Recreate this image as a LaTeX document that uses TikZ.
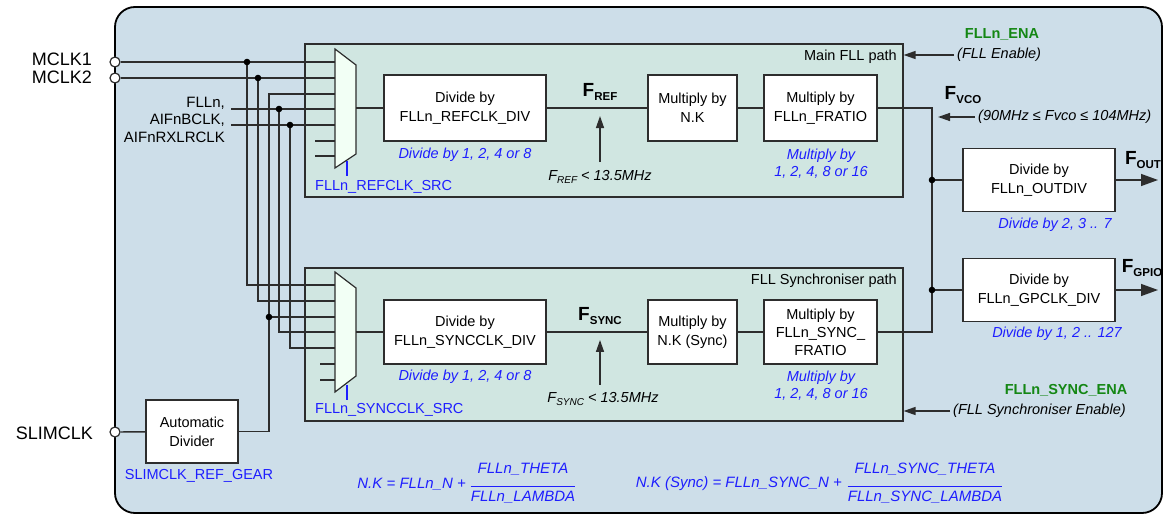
\documentclass[tikz,border=0pt]{standalone}
\usepackage{fontspec}
\setmainfont{Liberation Sans}
\usepackage{tikz}
\usetikzlibrary{arrows.meta,positioning,calc}
\definecolor{outerbg}{RGB}{205,222,233}
\definecolor{pathbg}{RGB}{208,230,225}
\definecolor{muxbg}{RGB}{242,255,245}
\definecolor{regblue}{RGB}{30,30,255}
\definecolor{enagreen}{RGB}{20,135,20}
\definecolor{wirec}{RGB}{45,45,45}
\newcommand{\fsig}[1]{\textbf{F}\raisebox{-0.45ex}{\fontsize{11.5}{11.5}\selectfont\textbf{#1}}}
\newcommand{\flim}[1]{F\raisebox{-0.45ex}{\fontsize{10}{10}\selectfont #1}}

\begin{document}
\begin{tikzpicture}[x=1pt,y=-1pt,
    wire/.style={draw=wirec,line width=1.4pt},
    blockbox/.style={draw=wirec,fill=white,line width=1.2pt,align=center,inner sep=0pt,
      font=\fontsize{14.5}{19}\selectfont},
    pathpanel/.style={draw=wirec,fill=pathbg,line width=1.2pt,minimum width=598pt,minimum height=153pt,inner sep=0pt},
    muxbody/.style={draw=wirec,fill=muxbg,line width=1.2pt},
    plain/.style={inner sep=0pt,font=\fontsize{14.5}{17}\selectfont},
    notetext/.style={inner sep=0pt,font=\fontsize{14.5}{17}\selectfont\itshape},
    regnote/.style={notetext,text=regblue,align=center},
    regname/.style={plain,text=regblue},
    eqtext/.style={regnote,font=\fontsize{15}{18}\selectfont\itshape},
    enaname/.style={inner sep=0pt,text=enagreen,font=\fontsize{14.5}{17}\selectfont\bfseries},
    pinname/.style={inner sep=0pt,anchor=east,font=\fontsize{18}{20}\selectfont},
    signame/.style={inner sep=0pt,font=\fontsize{19}{20}\selectfont},
    pinc/.style={circle,draw=wirec,fill=white,line width=1.2pt,minimum size=10pt,inner sep=0pt},
    sigarrow/.style={wire,-{Triangle[length=12pt,width=8pt]}},
    outarrow/.style={wire,-{Triangle[length=17pt,width=12pt]}}]
  \useasboundingbox (0,0) rectangle (1164,516);
  \draw[line width=1.8pt,fill=outerbg,rounded corners=20pt] (115,7) rectangle (1162,513);

  \node[pathpanel] (panelA) at (604,120.5) {};
  \node[pathpanel] (panelB) at (604,344.5) {};
  \node[plain,anchor=east] (pathlblA) at (897,57) {Main FLL path};
  \node[plain,anchor=east] (pathlblB) at (897,281) {FLL Synchroniser path};

  \foreach \k/\yy in {1/62,2/78,3/94,4/109,5/125,6/141,7/156}
    \coordinate (inA\k) at (335,\yy);
  \foreach \k/\yy in {1/285,2/301,3/317,4/332,5/348,6/364,7/380}
    \coordinate (inB\k) at (335,\yy);

  \node[pinc] (pinA) at (115,62) {};
  \node[pinc] (pinB) at (115,78) {};
  \node[pinc] (pinS) at (115,432) {};
  \node[pinname] (mclkA) at (92,59) {MCLK1};
  \node[pinname] (mclkB) at (92,77) {MCLK2};
  \node[pinname] (slimclk) at (93,433) {SLIMCLK};
  \node[plain,anchor=east,align=right,font=\fontsize{15}{17.5}\selectfont] (aiflbl) at (225,119.5)
    {FLLn,\\AIFnBCLK,\\AIFnRXLRCLK};

  \node[blockbox,minimum width=92pt,minimum height=63pt] (slimdiv) at (192,431.5) {Automatic\\Divider};
  \node[regname] (gearlbl) at (199,476) {SLIMCLK\_REF\_GEAR};

  \coordinate (jA) at (247,62);
  \coordinate (jB) at (258,78);
  \coordinate (jC) at (269,317);
  \coordinate (jD) at (279,109);
  \coordinate (jE) at (290,125);
  \coordinate (slimup) at (269,94);
  \coordinate (aifA) at (231,109);
  \coordinate (aifB) at (231,125);

  \draw[wire] (pinA) -- (inA1);
  \draw[wire] (pinB) -- (inA2);
  \draw[wire] (pinS) -- (slimdiv);
  \draw[wire] (slimdiv.east) -| (slimup) -- (inA3);
  \draw[wire] (aifA) -- (inA4);
  \draw[wire] (aifB) -- (inA5);
  \draw[wire] (jA) |- (inB1);
  \draw[wire] (jB) |- (inB2);
  \draw[wire] (jC) -- (inB3);
  \draw[wire] (jD) |- (inB4);
  \draw[wire] (jE) |- (inB5);
  \foreach \k in {6,7} {
    \draw[wire] (inA\k) -- ++(-20,0);
    \draw[wire] (inB\k) -- ++(-15,0);
  }
  \foreach \j in {jA,jB,jC,jD,jE}
    \fill (\j) circle (3.3pt);

  \draw[muxbody] (335,49) -- (356,65) -- (356,154) -- (335,168) -- cycle;
  \draw[muxbody] (335,272) -- (356,288) -- (356,376) -- (335,392) -- cycle;
  \coordinate (muxAout) at (356,108);
  \coordinate (muxBout) at (356,332);
  \node[regname,anchor=west] (srclblA) at (315,187) {FLLn\_REFCLK\_SRC};
  \node[regname,anchor=west] (srclblB) at (315,410) {FLLn\_SYNCCLK\_SRC};
  \draw[regblue,line width=1.1pt] (347,161) -- (347,176);
  \draw[regblue,line width=1.1pt] (347,385) -- (347,400);

  \node[blockbox,minimum width=162pt,minimum height=66pt] (refdiv) at (465,108) {Divide by\\FLLn\_REFCLK\_DIV};
  \node[blockbox,minimum width=89pt,minimum height=66pt] (nkA) at (692.5,108) {Multiply by\\N.K};
  \node[blockbox,minimum width=113pt,minimum height=66pt] (fratioA) at (820.5,108) {Multiply by\\FLLn\_FRATIO};
  \node[blockbox,minimum width=162pt,minimum height=64pt] (syncdiv) at (465,332) {Divide by\\FLLn\_SYNCCLK\_DIV};
  \node[blockbox,minimum width=89pt,minimum height=64pt] (nkB) at (692.5,332) {Multiply by\\N.K (Sync)};
  \node[blockbox,minimum width=113pt,minimum height=64pt,font=\fontsize{14.5}{18}\selectfont] (fratioB) at (820.5,332)
    {Multiply by\\FLLn\_SYNC\_\\FRATIO};

  \node[regnote] (divnoteA) at (465,155) {Divide by 1, 2, 4 or 8};
  \node[regnote] (mulnoteA) at (821,164) {Multiply by\\1, 2, 4, 8 or 16};
  \node[regnote] (divnoteB) at (465,377) {Divide by 1, 2, 4 or 8};
  \node[regnote] (mulnoteB) at (821,386) {Multiply by\\1, 2, 4, 8 or 16};

  \node[signame] (frefA) at (600,92) {\fsig{REF}};
  \node[signame] (fsyncB) at (600,316) {\fsig{SYNC}};
  \node[notetext] (reflim) at (600,177) {\flim{REF} < 13.5MHz};
  \node[notetext] (synclim) at (603,399) {\flim{SYNC} < 13.5MHz};
  \draw[sigarrow] ([yshift=8pt]reflim.north -| frefA) -- ++(0,-46);
  \draw[sigarrow] ([yshift=7pt]synclim.north -| fsyncB) -- ++(0,-45);

  \coordinate (vcoT) at (932,108);
  \coordinate (vcoB) at (932,332);
  \coordinate (jOut) at (932,180);
  \coordinate (jGp) at (932,290);
  \draw[wire] (muxAout) -- (refdiv) -- (nkA) -- (fratioA) -- (vcoT) -- (vcoB) -- (fratioB) -- (nkB) -- (syncdiv) -- (muxBout);

  \node[blockbox,minimum width=152pt,minimum height=63pt] (outdiv) at (1039,180) {Divide by\\FLLn\_OUTDIV};
  \node[blockbox,minimum width=152pt,minimum height=63pt] (gpdiv) at (1039,290) {Divide by\\FLLn\_GPCLK\_DIV};
  \node[regnote] (outnote) at (1055,225) {Divide by 2, 3 .. 7};
  \node[regnote] (gpnote) at (1057,334) {Divide by 1, 2 .. 127};
  \draw[wire] (jOut) -- (outdiv);
  \draw[wire] (jGp) -- (gpdiv);
  \fill (jOut) circle (3.3pt);
  \fill (jGp) circle (3.3pt);
  \coordinate (foutEnd) at (1158,180);
  \coordinate (fgpEnd) at (1158,290);
  \draw[outarrow] (outdiv) -- (foutEnd);
  \draw[outarrow] (gpdiv) -- (fgpEnd);
  \node[signame] (fout) at (1143,160) {\fsig{OUT}};
  \node[signame] (fgpio) at (1142,268) {\fsig{GPIO}};

  \node[signame] (fvco) at (963,95) {\fsig{VCO}};
  \node[notetext,anchor=west] (vcorange) at (978,117) {(90MHz ≤ Fvco ≤ 104MHz)};
  \draw[sigarrow] ([xshift=-3pt]vcorange.west) -- ([xshift=6pt]vcorange.west -| vcoT);

  \node[enaname] (enaA) at (1002,34) {FLLn\_ENA};
  \node[notetext,anchor=west] (enalblA) at (957,55) {(FLL Enable)};
  \draw[sigarrow] ([xshift=-3pt]enalblA.west) -- (enalblA.west -| panelA.east);
  \node[enaname] (enaB) at (1066,390) {FLLn\_SYNC\_ENA};
  \node[notetext,anchor=west] (enalblB) at (953,411) {(FLL Synchroniser Enable)};
  \draw[sigarrow] ([xshift=-3pt]enalblB.west) -- (enalblB.west -| panelB.east);

  \node[eqtext,anchor=east] (nkeqA) at (466,484) {N.K = FLLn\_N +};
  \node[eqtext] (thetaA) at (523,469) {FLLn\_THETA};
  \node[eqtext] (lambdaA) at (523,497) {FLLn\_LAMBDA};
  \draw[regblue,line width=1.1pt] ([yshift=4pt]lambdaA.north west) -- ([yshift=4pt]lambdaA.north east);
  \node[eqtext,anchor=east] (nkeqB) at (842,484) {N.K (Sync) = FLLn\_SYNC\_N +};
  \node[eqtext] (thetaB) at (925,469) {FLLn\_SYNC\_THETA};
  \node[eqtext] (lambdaB) at (925,497) {FLLn\_SYNC\_LAMBDA};
  \draw[regblue,line width=1.1pt] ([yshift=4pt]lambdaB.north west) -- ([yshift=4pt]lambdaB.north east);
\end{tikzpicture}
\end{document}
